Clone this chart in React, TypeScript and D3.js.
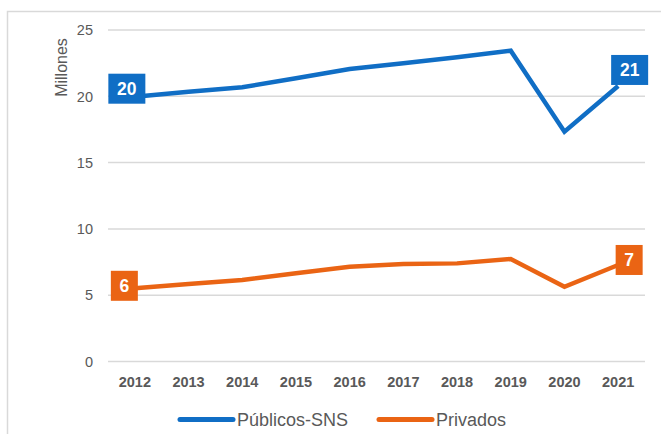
import React from "react";
import * as d3 from "d3";

const years = ["2012", "2013", "2014", "2015", "2016", "2017", "2018", "2019", "2020", "2021"];
const publicos = [19.97, 20.35, 20.68, 21.36, 22.06, 22.49, 22.94, 23.44, 17.33, 20.78];
const privados = [5.52, 5.84, 6.15, 6.65, 7.15, 7.35, 7.4, 7.73, 5.64, 7.28];
const yTicks = [0, 5, 10, 15, 20, 25];
const seriesNames = ["Públicos-SNS", "Privados"];
const dataLabels = [
  { series: 0, index: 0, text: "20" },
  { series: 0, index: 9, text: "21" },
  { series: 1, index: 0, text: "6" },
  { series: 1, index: 9, text: "7" },
];

const W = 661;
const H = 434;
const COLORS = ["#106EC5", "#EA6414"];
const GRID = "#D9D9D9";
const TEXT = "#595959";
const FONT = "'Liberation Sans', Arial, sans-serif";

// label box geometry (style): offset of box's top-left from the point, and box size
const labelBoxes = [
  { dx: -26.5, dy: -23, w: 37, h: 30 },
  { dx: -7, dy: -31, w: 37, h: 30 },
  { dx: -24, dy: -17.5, w: 27, h: 30 },
  { dx: -2.5, dy: -20, w: 27, h: 30 },
];

export default function App() {
  const x = d3.scaleBand<string>().domain(years).range([108, 645]);
  const y = d3.scaleLinear().domain([0, 25]).range([361.5, 30]);
  const cx = (yr: string) => (x(yr) as number) + x.bandwidth() / 2;
  const allSeries = [publicos, privados];
  const line = d3
    .line<number>()
    .x((_, i) => cx(years[i]))
    .y((v) => y(v))
    .curve(d3.curveLinear);

  const legendItems = [
    { x1: 180, x2: 233, tx: 237 },
    { x1: 379, x2: 432, tx: 436 },
  ];

  return (
    <svg
      width={W}
      height={H}
      style={{ position: "absolute", left: 0, top: 0, background: "#fff" }}
      fontFamily={FONT}
    >
      <rect x={0} y={0} width={W} height={H} fill="#fff" />
      <path d={`M7.5,${H + 5} L7.5,11.5 L${W + 5},11.5`} fill="none" stroke={GRID} strokeWidth={1.5} />

      {yTicks.map((t) => (
        <g key={t}>
          <line x1={108} x2={645} y1={y(t)} y2={y(t)} stroke={GRID} strokeWidth={1.5} />
          <text x={93} y={y(t)} dy="0.36em" textAnchor="end" fontSize={14.5} fill={TEXT}>
            {t}
          </text>
        </g>
      ))}

      <text
        transform={`translate(66.5,67.5) rotate(-90)`}
        textAnchor="middle"
        fontSize={16}
        fill={TEXT}
      >
        Millones
      </text>

      {years.map((yr) => (
        <text
          key={yr}
          x={cx(yr)}
          y={386.5}
          textAnchor="middle"
          fontSize={14.5}
          fontWeight="bold"
          fill={TEXT}
        >
          {yr}
        </text>
      ))}

      {allSeries.map((s, si) => (
        <path
          key={si}
          d={line(s) as string}
          fill="none"
          stroke={COLORS[si]}
          strokeWidth={4.5}
          strokeLinejoin="miter"
        />
      ))}

      {dataLabels.map((lb, i) => {
        const px = cx(years[lb.index]);
        const py = y(allSeries[lb.series][lb.index]);
        const b = labelBoxes[i];
        return (
          <g key={i}>
            <rect x={px + b.dx} y={py + b.dy} width={b.w} height={b.h} fill={COLORS[lb.series]} />
            <text
              x={px + b.dx + b.w / 2}
              y={py + b.dy + b.h / 2}
              dy="0.36em"
              textAnchor="middle"
              fontSize={17.5}
              fontWeight="bold"
              fill="#fff"
            >
              {lb.text}
            </text>
          </g>
        );
      })}

      {seriesNames.map((name, i) => (
        <g key={name}>
          <line
            x1={legendItems[i].x1}
            x2={legendItems[i].x2}
            y1={419.5}
            y2={419.5}
            stroke={COLORS[i]}
            strokeWidth={5}
            strokeLinecap="round"
          />
          <text x={legendItems[i].tx} y={426} fontSize={18} fill={TEXT}>
            {name}
          </text>
        </g>
      ))}
    </svg>
  );
}
